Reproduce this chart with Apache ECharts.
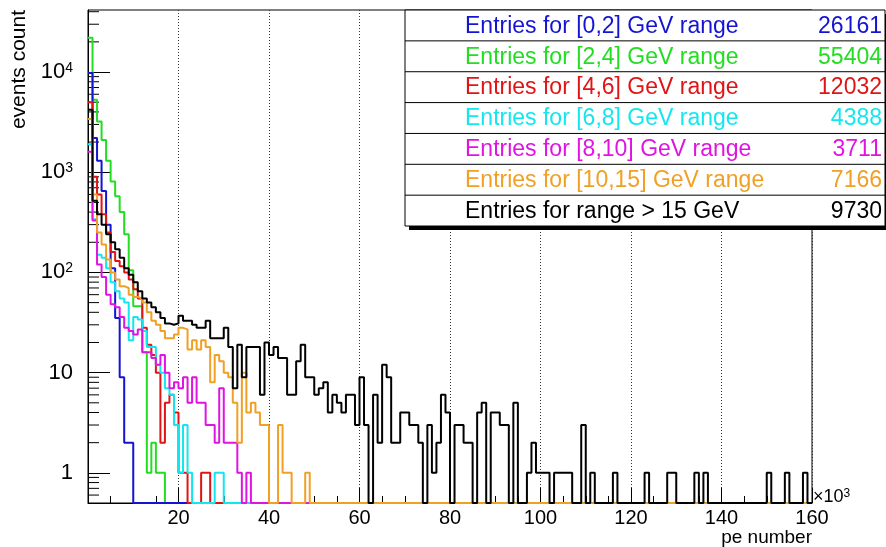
<!DOCTYPE html>
<html>
<head>
<meta charset="utf-8">
<script src="https://cdn.jsdelivr.net/npm/echarts@6/dist/echarts.min.js"></script>
<style>
html,body{margin:0;padding:0;background:#fff;}
#chart{width:886px;height:547px;}
</style>
</head>
<body>
<div id="chart"></div>
<script>
// ---- data: events per 1×10³ pe bin (bins 0..159) ----
const binWidth = 1; // ×10³ pe
const xTickLabels = [20, 40, 60, 80, 100, 120, 140, 160];

const seriesNames = [
  'Entries for [0,2] GeV range',
  'Entries for [2,4] GeV range',
  'Entries for [4,6] GeV range',
  'Entries for [6,8] GeV range',
  'Entries for [8,10] GeV range',
  'Entries for [10,15] GeV range',
  'Entries for range > 15 GeV'
];
const seriesEntries = [26161, 55404, 12032, 4388, 3711, 7166, 9730];
const seriesColors = ['#1414d2', '#22dd22', '#e01414', '#14e6f0', '#e014e0', '#f0a024', '#000000'];

const blueCounts = [
  9800,2200,1300,650,300,110,35,9,2,2, 0,0,0,0,0,0,0,0,0,0,
  0,0,0,0,0,0,0,0,0,0, 0,0,0,0,0,0,0,0,0,0,
  0,0,0,0,0,0,0,0,0,0, 0,0,0,0,0,0,0,0,0,0,
  0,0,0,0,0,0,0,0,0,0, 0,0,0,0,0,0,0,0,0,0,
  0,0,0,0,0,0,0,0,0,0, 0,0,0,0,0,0,0,0,0,0,
  0,0,0,0,0,0,0,0,0,0, 0,0,0,0,0,0,0,0,0,0,
  0,0,0,0,0,0,0,0,0,0, 0,0,0,0,0,0,0,0,0,0,
  0,0,0,0,0,0,0,0,0,0, 0,0,0,0,0,0,0,0,0,0
];
const greenCounts = [
  22000,5300,3200,2100,1300,810,575,400,240,105, 46,46,16,1,2,1,1,0,0,0,
  0,0,0,0,0,0,0,0,0,0, 0,0,0,0,0,0,0,0,0,0,
  0,0,0,0,0,0,0,0,0,0, 0,0,0,0,0,0,0,0,0,0,
  0,0,0,0,0,0,0,0,0,0, 0,0,0,0,0,0,0,0,0,0,
  0,0,0,0,0,0,0,0,0,0, 0,0,0,0,0,0,0,0,0,0,
  0,0,0,0,0,0,0,0,0,0, 0,0,0,0,0,0,0,0,0,0,
  0,0,0,0,0,0,0,0,0,0, 0,0,0,0,0,0,0,0,0,0,
  0,0,0,0,0,0,0,0,0,0, 0,0,0,0,0,0,0,0,0,0
];
const redCounts = [
  5000,900,600,380,250,160,130,115,100,85, 68,55,28,19,15,10,2,5,6,4,
  1,1,0,0,0,1,1,0,0,0, 0,0,0,0,0,0,0,0,0,0,
  0,0,0,0,0,0,0,0,0,0, 0,0,0,0,0,0,0,0,0,0,
  0,0,0,0,0,0,0,0,0,0, 0,0,0,0,0,0,0,0,0,0,
  0,0,0,0,0,0,0,0,0,0, 0,0,0,0,0,0,0,0,0,0,
  0,0,0,0,0,0,0,0,0,0, 0,0,0,0,0,0,0,0,0,0,
  0,0,0,0,0,0,0,0,0,0, 0,0,0,0,0,0,0,0,0,0,
  0,0,0,0,0,0,0,0,0,0, 0,0,0,0,0,0,0,0,0,0
];
const cyanCounts = [
  1900,340,150,140,110,80,65,55,50,21, 36,34,26,18,18,12,10,7,6,3,
  1,3,1,0,0,0,0,0,1,1, 0,0,0,0,0,0,0,0,0,0,
  0,0,0,0,0,0,0,0,0,0, 0,0,0,0,0,0,0,0,0,0,
  0,0,0,0,0,0,0,0,0,0, 0,0,0,0,0,0,0,0,0,0,
  0,0,0,0,0,0,0,0,0,0, 0,0,0,0,0,0,0,0,0,0,
  0,0,0,0,0,0,0,0,0,0, 0,0,0,0,0,0,0,0,0,0,
  0,0,0,0,0,0,0,0,0,0, 0,0,0,0,0,0,0,0,0,0,
  0,0,0,0,0,0,0,0,0,0, 0,0,0,0,0,0,0,0,0,0
];
const magentaCounts = [
  1600,330,120,90,60,48,45,36,28,26, 24,27,16,16,14,12,15,10,7,8,
  7,9,5,9,5,5,3,3,2,7, 2,2,2,1,0,1,0,0,0,0,
  0,0,0,0,0,0,0,0,0,0, 0,0,0,0,0,0,0,0,0,0,
  0,0,0,0,0,0,0,0,0,0, 0,0,0,0,0,0,0,0,0,0,
  0,0,0,0,0,0,0,0,0,0, 0,0,0,0,0,0,0,0,0,0,
  0,0,0,0,0,0,0,0,0,0, 0,0,0,0,0,0,0,0,0,0,
  0,0,0,0,0,0,0,0,0,0, 0,0,0,0,0,0,0,0,0,0,
  0,0,0,0,0,0,0,0,0,0, 0,0,0,0,0,0,0,0,0,0
];
const orangeCounts = [
  3400,600,250,190,135,100,85,73,70,60, 57,55,50,40,33,30,26,22,22,24,
  28,27,17,21,17,21,18,8,15,13, 10,9,5,2,10,4,5,4,3,3,
  0,0,3,1,1,0,0,0,1,0, 0,0,0,0,0,0,0,0,0,0,
  0,0,0,0,0,0,0,0,0,0, 0,0,0,0,0,0,0,0,0,0,
  0,0,0,0,0,0,0,0,0,0, 0,0,0,0,0,0,0,0,0,0,
  0,0,0,0,0,0,0,0,0,0, 0,0,0,0,0,0,0,0,0,0,
  0,0,0,0,0,0,0,0,0,0, 0,0,0,0,0,0,0,0,0,0,
  0,0,0,0,0,0,0,0,0,0, 0,0,0,0,0,0,0,0,0,0
];
const blackCounts = [
  4200,520,380,300,240,200,170,140,110,95, 80,65,55,50,45,40,35,31,30,31,
  37,33,33,30,28,28,33,22,22,22, 28,18,7,19,9,18,18,18,6,20,
  15,18,14,14,6,6,13,19,9,9, 6,7,8,4,6,5,4,6,6,3,
  9,3,0,6,2,12,9,2,2,4, 4,3,3,2,0,3,1,2,6,4,
  0,3,3,2,2,0,4,5,0,4, 4,3,3,0,5,0,0,1,2,1,
  1,1,0,1,1,1,1,0,0,3, 0,1,0,0,0,0,1,0,0,0,
  0,0,0,1,0,0,0,0,1,1, 0,0,0,0,1,0,1,0,0,0,
  0,0,0,0,0,0,0,0,0,0, 1,0,0,0,1,0,0,0,1,0
];
const allCounts = [blueCounts, greenCounts, redCounts, cyanCounts, magentaCounts, orangeCounts, blackCounts];
// drawing order (first drawn = underneath): green, blue, red, cyan, magenta, orange, black
const drawOrder = [1, 0, 2, 3, 4, 5, 6];

// ---- layout / style ----
const Y_MIN = 0.5, Y_MAX = 41600;
const FONT = '"Liberation Sans", Arial, Helvetica, sans-serif';
const GRID = {left: 88, right: 74, top: 10, bottom: 44};

function histPoints(vals) {
  const pts = [];
  for (let i = 0; i < vals.length; i++) {
    pts.push([i * binWidth, vals[i] > 0 ? vals[i] : Y_MIN]);
  }
  const last = vals[vals.length - 1];
  pts.push([vals.length * binWidth, last > 0 ? last : Y_MIN]);
  return pts;
}

// y minor tick values (2..9 per decade) inside the axis range
const yMinorTicks = [];
for (let d = -1; d <= 4; d++) {
  for (let k = 2; k <= 9; k++) {
    const v = k * Math.pow(10, d);
    if (v > Y_MIN && v < Y_MAX) yMinorTicks.push(v);
  }
}

const series = [];
drawOrder.forEach(function (idx) {
  series.push({
    name: seriesNames[idx],
    type: 'line',
    step: 'end',
    data: histPoints(allCounts[idx]),
    showSymbol: false,
    symbol: 'none',
    lineStyle: {color: seriesColors[idx], width: 2},
    itemStyle: {color: seriesColors[idx]},
    clip: true,
    animation: false,
    silent: true
  });
});
series.push({
  type: 'custom',
  silent: true,
  animation: false,
  clip: false,
  data: yMinorTicks.map(function (v) { return [0, v]; }),
  renderItem: function (params, api) {
    const p = api.coord([0, api.value(1)]);
    return {
      type: 'line',
      shape: {x1: p[0], y1: p[1], x2: p[0] + 11, y2: p[1]},
      style: {stroke: '#000', lineWidth: 1}
    };
  }
});

// legend box graphic (flat elements, own canvas layer on top of the plot)
const rowH = 30.86, boxX = 405, boxY = 10, boxW = 480;
const graphicEls = [
  {type: 'rect', zlevel: 2, z: 10, shape: {x: boxX + 4, y: boxY + 4, width: boxW, height: rowH * 7}, style: {fill: '#000'}},
  {type: 'rect', zlevel: 2, z: 11, shape: {x: boxX, y: boxY, width: boxW, height: rowH * 7}, style: {fill: '#fff', stroke: '#000', lineWidth: 1}}
];
for (let i = 0; i < seriesNames.length; i++) {
  const cy = boxY + rowH * i + rowH / 2;
  if (i > 0) {
    graphicEls.push({type: 'line', zlevel: 2, z: 12, shape: {x1: boxX, y1: boxY + rowH * i, x2: boxX + boxW, y2: boxY + rowH * i},
      style: {stroke: '#000', lineWidth: 1}});
  }
  graphicEls.push({type: 'text', zlevel: 2, z: 12, x: 465, y: cy + 1,
    style: {text: seriesNames[i], fill: seriesColors[i], font: '23px ' + FONT, align: 'left', verticalAlign: 'middle'}});
  graphicEls.push({type: 'text', zlevel: 2, z: 12, x: 882, y: cy + 1,
    style: {text: String(seriesEntries[i]), fill: seriesColors[i], font: '23px ' + FONT, align: 'right', verticalAlign: 'middle'}});
}
graphicEls.push(
  {type: 'text', x: 19, y: 10, rotation: Math.PI / 2,
    style: {text: 'events count', font: '21px ' + FONT, fill: '#000', align: 'right', verticalAlign: 'middle'}},
  {type: 'text', x: 812, y: 538,
    style: {text: 'pe number', font: '19px ' + FONT, fill: '#000', align: 'right', verticalAlign: 'middle'}},
  {type: 'text', x: 813, y: 497,
    style: {text: '{a|×10}{b|3}', align: 'left', verticalAlign: 'middle',
      rich: {a: {fontSize: 18, fontFamily: FONT, fill: '#000', lineHeight: 18},
             b: {fontSize: 12, fontFamily: FONT, fill: '#000', verticalAlign: 'top', lineHeight: 18, padding: [0, 0, 8, 0]}}}}
);

const option = {
  animation: false,
  backgroundColor: '#fff',
  grid: Object.assign({show: true, borderColor: '#000', borderWidth: 1, backgroundColor: 'transparent'}, GRID),
  xAxis: {
    type: 'value',
    min: 0,
    max: 160,
    interval: 20,
    z: 0,
    axisLine: {show: true, lineStyle: {color: '#000', width: 1}},
    axisTick: {show: true, inside: true, length: 15, lineStyle: {color: '#000'}},
    minorTick: {show: true, splitNumber: 4, length: 7, lineStyle: {color: '#000'}},
    axisLabel: {
      show: true, color: '#000', fontSize: 20, fontFamily: FONT, margin: 5,
      showMinLabel: false,
      formatter: function (v) { return xTickLabels.indexOf(v) >= 0 ? String(v) : ''; }
    },
    splitLine: {show: true, lineStyle: {color: '#333', type: [1, 2], width: 1}}
  },
  yAxis: {
    type: 'log',
    logBase: 10,
    min: Y_MIN,
    max: Y_MAX,
    axisLine: {show: true, lineStyle: {color: '#000', width: 1}},
    axisTick: {show: true, inside: true, length: 22, lineStyle: {color: '#000'}},
    axisLabel: {
      show: true, color: '#000', fontFamily: FONT, margin: 15,
      showMinLabel: false, showMaxLabel: false,
      formatter: function (v) {
        const e = Math.round(Math.log10(v));
        if (Math.abs(Math.log10(v) - e) > 1e-6) return '';
        if (e === 0) return '{b|1}';
        if (e === 1) return '{b|10}';
        return '{b|10}{s|' + e + '}';
      },
      rich: {
        b: {fontSize: 22, fontFamily: FONT, color: '#000', lineHeight: 22},
        s: {fontSize: 14, fontFamily: FONT, color: '#000', verticalAlign: 'top', lineHeight: 22, padding: [0, 0, 10, 0]}
      }
    },
    splitLine: {show: false}
  },
  series: series,
  graphic: {elements: graphicEls}
};

const chart = echarts.init(document.getElementById('chart'), null, {renderer: 'canvas', width: 886, height: 547});
chart.setOption(option);
</script>
</body>
</html>
